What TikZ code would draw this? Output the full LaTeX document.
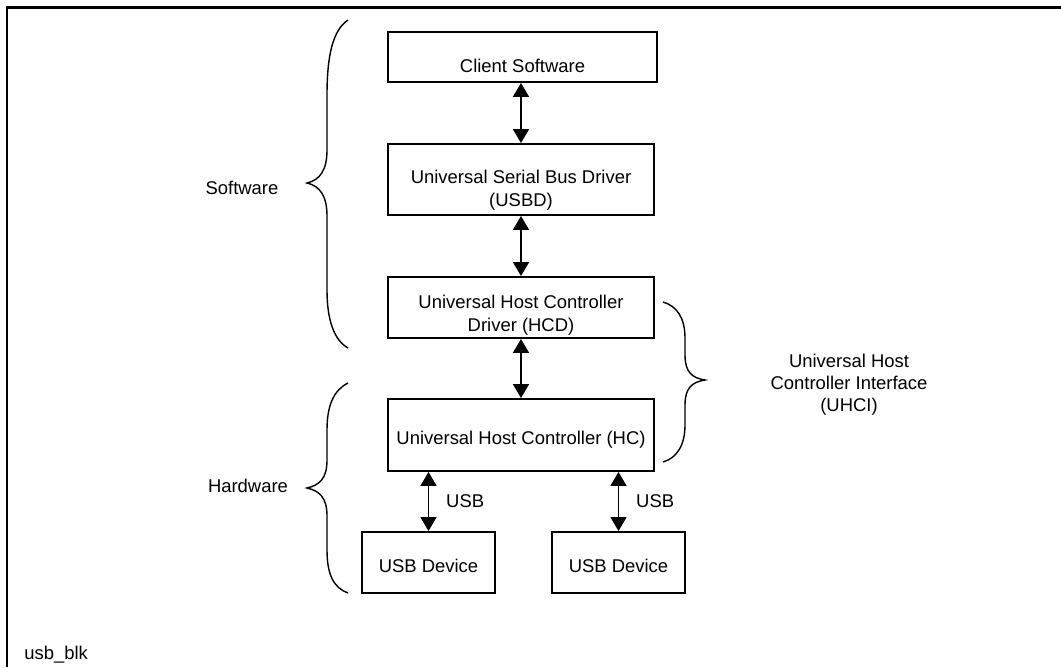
\documentclass[tikz,border=0pt]{standalone}
\usepackage{fontspec}
\setmainfont{Liberation Sans}
\usetikzlibrary{arrows.meta}

\begin{document}
\begin{tikzpicture}[x=0.02cm, y=-0.02cm, font=\fontsize{10.5}{12.6}\selectfont]
        \tikzstyle{block} = [draw, line width=1.1pt, align=center, inner sep=0pt, text depth=0pt]
        \tikzstyle{link} = [line width=1pt, {Triangle[length=0.28cm, width=0.32cm]}-{Triangle[length=0.28cm, width=0.32cm]}]
        \tikzstyle{curly} = [line width=0.8pt]
        \useasboundingbox (0,0) rectangle (1061,667);
        \draw[line width=1.7pt] (7,667) -- (7,7.5) -- (1061,7.5);
        \node[block, minimum width=5.38cm, minimum height=1cm, text height=0.6cm] (B-1) at (522.5,57) {Client Software};
        \node[block, minimum width=5.32cm, minimum height=1.42cm, text height=1.06cm] (B-2) at (521,179.5) {Universal Serial Bus Driver\\(USBD)};
        \node[block, minimum width=5.32cm, minimum height=1.22cm, text height=0.94cm] (B-3) at (521,307.5) {Universal Host Controller\\Driver (HCD)};
        \node[block, minimum width=5.32cm, minimum height=1.44cm, text height=0.36cm] (B-4) at (521,435) {Universal Host Controller (HC)};
        \node[block, minimum width=2.66cm, minimum height=1.22cm, text height=0.38cm] (D-1) at (428.5,562.5) {USB Device};
        \node[block, minimum width=2.66cm, minimum height=1.22cm, text height=0.38cm] (D-2) at (618.5,562.5) {USB Device};
        \draw[link] (B-2.north |- B-1.south) -- (B-2.north);
        \draw[link] (B-2.south) -- (B-3.north);
        \draw[link] (B-3.south) -- (B-4.north);
        \draw[link] (D-1.north |- B-4.south) -- (D-1.north) node[midway, right=0.22cm] {USB};
        \draw[link] (D-2.north |- B-4.south) -- (D-2.north) node[midway, right=0.22cm] {USB};
        % braces
        \draw[curly] (348,20) .. controls (333,30) and (327,55) .. (327,95) -- (327,150) .. controls (327,170) and (320,180) .. (307,183) .. controls (320,186) and (327,196) .. (327,216) -- (327,290) .. controls (327,320) and (334,340) .. (348,348);
        \draw[curly] (348,383) .. controls (334,390) and (327,405) .. (327,430) -- (327,460) .. controls (327,478) and (320,485) .. (307,488) .. controls (320,491) and (327,498) .. (327,516) -- (327,550) .. controls (327,575) and (334,588) .. (348,593);
        \draw[curly] (663,302) .. controls (677,306) and (685,318) .. (685,338) -- (685,355) .. controls (685,372) and (692,378) .. (705,380) .. controls (692,382) and (685,388) .. (685,405) -- (685,425) .. controls (685,445) and (677,458) .. (663,462);
        \node (sw) at (242,188) {Software};
        \node (hw) at (248,486) {Hardware};
        \node[align=center] (uhci) at (849,385) {Universal Host\\Controller Interface\\(UHCI)};
        \node[anchor=base west, inner sep=0pt] (tag) at (24,659) {usb\_blk};
\end{tikzpicture}
\end{document}
